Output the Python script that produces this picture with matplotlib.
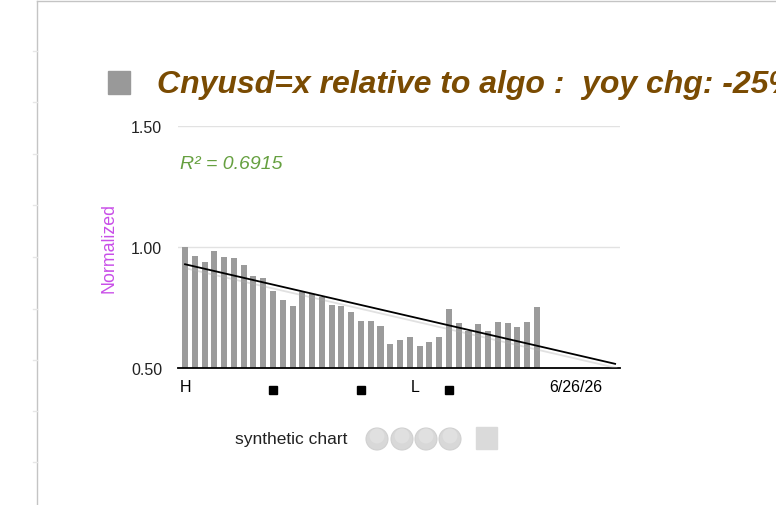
import matplotlib
matplotlib.use("Agg")
import matplotlib.pyplot as plt
import matplotlib.patheffects as pe
from matplotlib.patches import Circle, Rectangle
import numpy as np

plt.rcParams["font.family"] = ["Liberation Sans", "DejaVu Sans"]

# data
values = [1.00, 0.964, 0.937, 0.985, 0.960, 0.955, 0.927, 0.881, 0.872, 0.820,
          0.781, 0.757, 0.813, 0.806, 0.792, 0.760, 0.757, 0.730, 0.696, 0.693,
          0.673, 0.598, 0.617, 0.627, 0.592, 0.606, 0.629, 0.744, 0.685, 0.654,
          0.682, 0.652, 0.689, 0.685, 0.671, 0.691, 0.753]
trend_end = 44          # trend line projected past the last bar
y_ticks = [0.50, 1.00, 1.50]
y_ticklabels = ["0.50", "1.00", "1.50"]
marker_idx = [9, 18, 27]
date_label = "6/26/26"
date_idx = 40
title = "Cnyusd=x relative to algo :  yoy chg: -25%"
r2_text = "R\u00b2 = 0.6915"

W, H = 776, 506
fig = plt.figure(figsize=(W / 100, H / 100), dpi=100)

# overlay in pixel coords for the frame and decorations
deco = fig.add_axes([0, 0, 1, 1])
deco.set_xlim(0, W)
deco.set_ylim(H, 0)
deco.axis("off")
deco.plot([37, 37], [2, H], color="#c4c4c4", lw=1)
deco.plot([37, W], [2, 2], color="#c4c4c4", lw=1)
for yy in [52, 103, 155, 206, 258, 310, 361, 412, 463]:
    deco.plot([33, 37], [yy, yy], color="#e6e6e6", lw=1)

deco.add_patch(Rectangle((108, 72), 22, 23, color="#999999"))
# the reference lets the title run off the right edge
deco.text(157, 85, title, fontsize=23, fontweight="bold", fontstyle="italic",
          color="#7a4b02", va="center", ha="left", clip_on=False)

deco.text(291.5, 440, "synthetic chart", fontsize=12.5, color="#222222",
          ha="center", va="center")
for cx in [377, 402, 426, 450]:
    deco.add_patch(Circle((cx, 440), 11, facecolor="#d8d8d8", edgecolor="#d0d0d0", lw=0.8))
    deco.add_patch(Circle((cx, 437), 7.5, facecolor="#e0e0e0", edgecolor="none"))
deco.add_patch(Rectangle((476, 428), 21, 22, color="#dadada"))

# main chart
ax = fig.add_axes([178 / W, (H - 369) / H, (620 - 178) / W, 242 / H])
x = np.arange(len(values))
ax.bar(x, values, width=0.62, color="#9b9b9b", zorder=2)

slope, icpt = np.polyfit(x, values, 1)
tx = np.array([0, trend_end])
ax.plot(tx, slope * tx + icpt, color="black", lw=1.3, zorder=3,
        path_effects=[pe.SimpleLineShadow(offset=(1, -3), shadow_color="#aaaaaa", alpha=0.35),
                      pe.Normal()])

ax.set_xlim(-0.72, 44.5)
ax.set_ylim(0.5, 1.5)
ax.set_yticks(y_ticks)
ax.set_yticklabels(y_ticklabels, fontsize=11.5, color="#222222")
ax.tick_params(axis="y", length=0, pad=11.5)
ax.set_xticks([])
for yv in y_ticks[1:]:
    ax.axhline(yv, color="#e2e2e2", lw=1, zorder=1)
for s in ["top", "right", "left"]:
    ax.spines[s].set_visible(False)
ax.spines["bottom"].set_color("black")
ax.spines["bottom"].set_linewidth(1.3)
ax.set_ylabel("Normalized", fontsize=12.8, color="#c94fe8", labelpad=9.5)

ax.text(-0.5, 1.343, r2_text, fontsize=14, fontstyle="italic", color="#66a040",
        ha="left", va="center")

# labels under the axis: H at the high, L at the low
hi = int(np.argmax(values))
lo = int(np.argmin(values))
lbl_tf = ax.get_xaxis_transform()
ax.text(hi, -0.075, "H", transform=lbl_tf, fontsize=11.5, ha="center", va="center")
ax.text(lo - 0.5, -0.075, "L", transform=lbl_tf, fontsize=11.5, ha="center", va="center")
ax.text(date_idx, -0.075, date_label, transform=lbl_tf, fontsize=11.5, ha="center", va="center")
ax.plot(marker_idx, [-0.09] * len(marker_idx), "s", color="black", ms=6,
        transform=lbl_tf, clip_on=False)

fig.savefig("out.png", dpi=100)
